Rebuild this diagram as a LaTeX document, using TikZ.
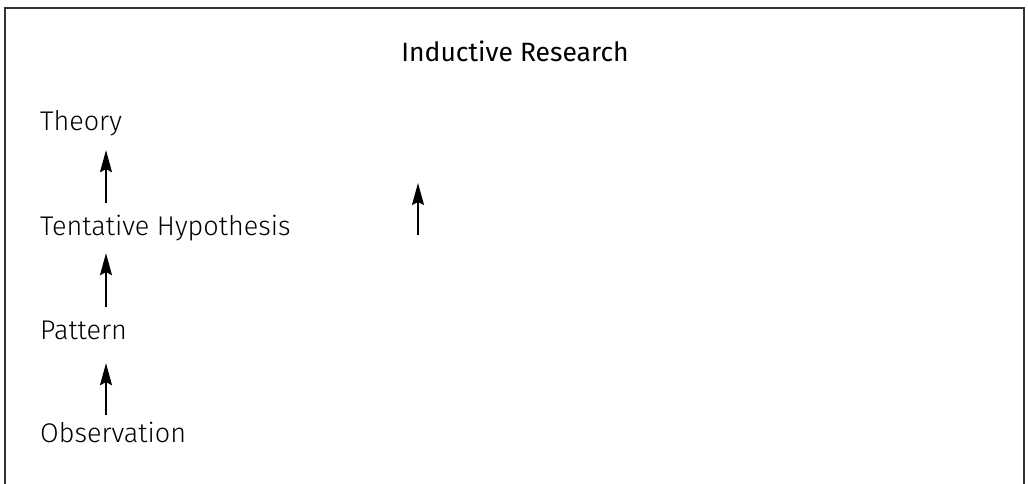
\documentclass[tikz,border=0pt]{standalone}
\usepackage{fontspec}
\setmainfont{Fira Sans}[UprightFont=* Light, BoldFont=* Medium]
\newfontfamily\titlefont{Fira Sans}
\usetikzlibrary{arrows.meta}
\begin{document}
\begin{tikzpicture}[x=1pt,y=-1pt,
  lbl/.style={anchor=base west, inner sep=0pt, font=\fontsize{27}{31}\selectfont, text height=20pt, text depth=6pt},
  ttl/.style={anchor=base, inner sep=0pt, font=\titlefont\fontsize{26.5}{30}\selectfont},
  arr/.style={line width=1.3pt, -{Stealth[length=22pt,width=12pt,inset=3pt]}},
  frame/.style={draw=black!80, line width=2pt}]
\useasboundingbox (0,0) rectangle (1028,484);
\draw[frame] (5,8) rectangle (1024,500);
\node[ttl] (title) at (515,62) {Inductive Research};
\node[lbl] (theory) at (40,131) {Theory};
\node[lbl] (hyp) at (40,235) {Tentative Hypothesis};
\node[lbl] (pat) at (40,339.5) {Pattern};
\node[lbl] (obs) at (40,442.5) {Observation};
\coordinate (ax) at (106,0);
\draw[arr] ([yshift=12pt]hyp.north -| ax) -- ([yshift=-13pt]theory.south -| ax);
\draw[arr] ([yshift=12pt]pat.north -| ax) -- ([yshift=-12pt]hyp.south -| ax);
\draw[arr] ([yshift=7.5pt]obs.north -| ax) -- ([yshift=-17.5pt]pat.south -| ax);
\coordinate (ls) at (418,235);
\coordinate (le) at (418,183);
\draw[arr] (ls) -- (le);
\end{tikzpicture}
\end{document}
